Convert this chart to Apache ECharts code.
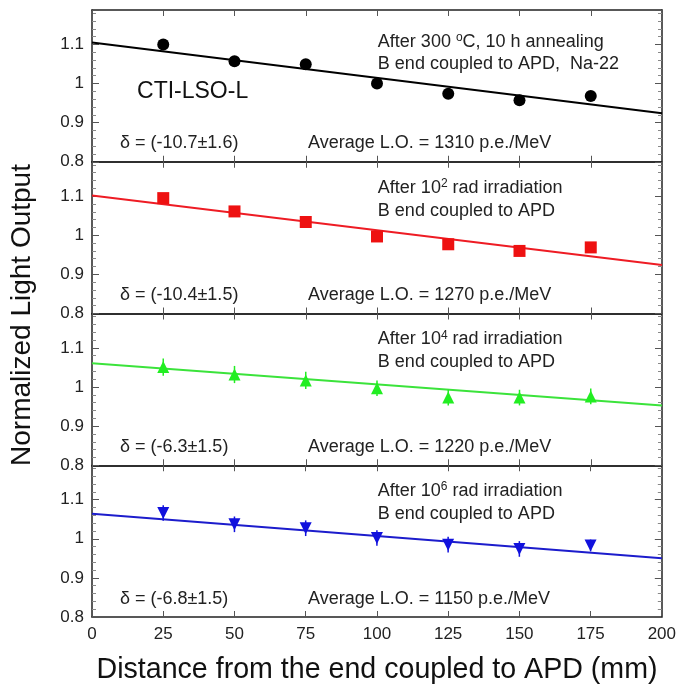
<!DOCTYPE html>
<html>
<head>
<meta charset="utf-8">
<script src="https://cdn.jsdelivr.net/npm/echarts@6/dist/echarts.min.js"></script>
<style>html,body{margin:0;padding:0;background:#fff}#c{width:679px;height:688px}</style>
</head>
<body>
<div id="c"></div>
<script>
// ---- data ----
const xPositions = [25, 50, 75, 100, 125, 150, 175];
const xTicks = [0, 25, 50, 75, 100, 125, 150, 175, 200];
const yTickLabels = ['0.8', '0.9', '1', '1.1'];

const annealedLO = [1.100, 1.057, 1.049, 1.000, 0.974, 0.957, 0.968];
const annealedErr = [0.010, 0.010, 0.010, 0.010, 0.010, 0.010, 0.010];
const rad2LO = [1.095, 1.061, 1.034, 0.997, 0.977, 0.960, 0.969];
const rad2Err = [0.012, 0.012, 0.012, 0.012, 0.012, 0.012, 0.012];
const rad4LO = [1.051, 1.032, 1.017, 0.997, 0.973, 0.973, 0.976];
const rad4Err = [0.022, 0.022, 0.022, 0.020, 0.020, 0.020, 0.020];
const rad6LO = [1.066, 1.037, 1.027, 1.002, 0.985, 0.974, 0.983];
const rad6Err = [0.020, 0.020, 0.020, 0.020, 0.020, 0.020, 0.015];

const fitAt0 = [1.105, 1.102, 1.061, 1.064];
const fitAt200 = [0.924, 0.924, 0.953, 0.950];

const panelTitle1 = ['After 300 ', 'After 10', 'After 10', 'After 10'];
const panelSup = ['o', '2', '4', '6'];
const panelTitle1b = ['C, 10 h annealing', ' rad irradiation', ' rad irradiation', ' rad irradiation'];
const panelTitle2 = ['B end coupled to APD,  Na-22', 'B end coupled to APD', 'B end coupled to APD', 'B end coupled to APD'];
const deltaText = ['\u03b4 = (-10.7\u00b11.6)', '\u03b4 = (-10.4\u00b11.5)', '\u03b4 = (-6.3\u00b11.5)', '\u03b4 = (-6.8\u00b11.5)'];
const avgLO = ['Average L.O. = 1310 p.e./MeV', 'Average L.O. = 1270 p.e./MeV', 'Average L.O. = 1220 p.e./MeV', 'Average L.O. = 1150 p.e./MeV'];
const crystalName = 'CTI-LSO-L';

// ---- layout / styles ----
const FONT = "'Liberation Sans', Arial, sans-serif";
const YMIN = 0.8, YMAX = 1.188;
const TOP = 10, BOTTOM = 617, LEFT = 92, RIGHT_PX = 662;
const H = (BOTTOM - TOP) / 4;
const line1At = [1.107, 1.122, 1.122, 1.122];
const line2At = [1.050, 1.063, 1.063, 1.064];
const deltaAt = 0.847;
const markerColors = ['#000000', '#ee1111', '#22ee22', '#1111dd'];
const lineColors = ['#000000', '#ee1c24', '#3be33b', '#1c1ccc'];
const symbols = ['circle', 'rect', 'triangle', 'triangle'];
const rotates = [0, 0, 0, 180];
const panels = [
  [annealedLO, annealedErr],
  [rad2LO, rad2Err],
  [rad4LO, rad4Err],
  [rad6LO, rad6Err]
];

const chart = echarts.init(document.getElementById('c'), null, {renderer: 'canvas'});

const grids = [], xAxes = [], yAxes = [], series = [];
const axisColor = '#222';
for (let i = 0; i < 4; i++) {
  grids.push({left: LEFT, right: 679 - RIGHT_PX, top: TOP + i * H, height: H});
  const xBase = {
    gridIndex: i, type: 'value', min: 0, max: 200, interval: 25,
    axisLine: {show: true, onZero: false, lineStyle: {color: axisColor, width: 1.5}},
    axisTick: {show: true, inside: true, length: 6, lineStyle: {color: '#555', width: 1}},
    splitLine: {show: false}
  };
  xAxes.push(Object.assign({}, xBase, {
    position: 'bottom',
    axisLabel: {show: i === 3, fontSize: 17, color: '#222', fontFamily: FONT, margin: 9,
      formatter: v => xTicks.indexOf(v) >= 0 ? String(v) : ''}
  }));
  xAxes.push(Object.assign({}, xBase, {position: 'top', axisLabel: {show: false}}));
  const yBase = {
    gridIndex: i, type: 'value', min: YMIN, max: YMAX, interval: 0.1,
    axisLine: {show: true, onZero: false, lineStyle: {color: axisColor, width: 1.5}},
    axisTick: {show: true, inside: true, length: 7, lineStyle: {color: '#555', width: 1}},
    minorTick: {show: true, splitNumber: 5, length: 4, lineStyle: {color: '#888', width: 1}},
    splitLine: {show: false}
  };
  yAxes.push(Object.assign({}, yBase, {
    position: 'left',
    axisLabel: {show: true, fontSize: 17, color: '#222', fontFamily: FONT, margin: 8, showMaxLabel: false,
      formatter: v => {
        const s = String(Math.round(v * 10) / 10);
        return yTickLabels.indexOf(s) >= 0 ? s : '';
      }}
  }));
  yAxes.push(Object.assign({}, yBase, {position: 'right', axisLabel: {show: false}}));

  const vals = panels[i][0], errs = panels[i][1];
  series.push({
    type: 'line', xAxisIndex: 2 * i, yAxisIndex: 2 * i, showSymbol: false, silent: true,
    lineStyle: {color: lineColors[i], width: 2}, z: 2,
    data: [[0, fitAt0[i]], [200, fitAt200[i]]]
  });
  series.push({
    type: 'custom', xAxisIndex: 2 * i, yAxisIndex: 2 * i, z: 3, silent: true,
    data: xPositions.map((x, j) => [x, vals[j] - errs[j], vals[j] + errs[j]]),
    renderItem: (params, api) => {
      const p1 = api.coord([api.value(0), api.value(1)]);
      const p2 = api.coord([api.value(0), api.value(2)]);
      return {type: 'line', shape: {x1: p1[0], y1: p1[1], x2: p2[0], y2: p2[1]},
        style: {stroke: markerColors[i], lineWidth: 1.5}};
    }
  });
  series.push({
    type: 'scatter', xAxisIndex: 2 * i, yAxisIndex: 2 * i, z: 4,
    symbol: symbols[i], symbolRotate: rotates[i], symbolSize: 12,
    itemStyle: {color: markerColors[i], opacity: 1},
    data: xPositions.map((x, j) => [x, vals[j]])
  });
}

chart.setOption({
  animation: false,
  backgroundColor: '#fff',
  grid: grids, xAxis: xAxes, yAxis: yAxes, series: series
});

// ---- annotations positioned through the axes ----
const graphics = [];
const toPx = (i, x, y) => chart.convertToPixel({xAxisIndex: 2 * i, yAxisIndex: 2 * i}, [x, y]);
const TXT = 18;
for (let i = 0; i < 4; i++) {
  const p1 = toPx(i, 100.3, line1At[i]);
  graphics.push({type: 'text', x: p1[0], y: p1[1], style: {
    text: '{n|' + panelTitle1[i] + '}{s|' + panelSup[i] + '}{n|' + panelTitle1b[i] + '}',
    rich: {n: {fontSize: TXT, fontFamily: FONT, fill: '#222', lineHeight: 20},
           s: {fontSize: 12, fontFamily: FONT, fill: '#222', verticalAlign: 'top', lineHeight: 20}},
    verticalAlign: 'middle', align: 'left'}});
  const p2 = toPx(i, 100.3, line2At[i]);
  graphics.push({type: 'text', x: p2[0], y: p2[1], style: {text: panelTitle2[i], fontSize: TXT, fontFamily: FONT, fill: '#222', verticalAlign: 'middle', align: 'left'}});
  const p3 = toPx(i, 9.8, deltaAt);
  graphics.push({type: 'text', x: p3[0], y: p3[1], style: {text: deltaText[i], fontSize: TXT, fontFamily: FONT, fill: '#222', verticalAlign: 'middle', align: 'left'}});
  const p4 = toPx(i, 75.8, deltaAt);
  graphics.push({type: 'text', x: p4[0], y: p4[1], style: {text: avgLO[i], fontSize: TXT, fontFamily: FONT, fill: '#222', verticalAlign: 'middle', align: 'left'}});
}
const pc = toPx(0, 15.8, 0.98);
graphics.push({type: 'text', x: pc[0], y: pc[1], style: {text: crystalName, fontSize: 23, fontFamily: FONT, fill: '#111', verticalAlign: 'middle', align: 'left'}});
graphics.push({type: 'text', x: 22, y: 315, rotation: Math.PI / 2, style: {
  text: 'Normalized Light Output', fontSize: 28, fontFamily: FONT, fill: '#111', align: 'center', verticalAlign: 'middle'}});
graphics.push({type: 'text', x: (LEFT + RIGHT_PX) / 2, y: 670, style: {
  text: 'Distance from the end coupled to APD (mm)', fontSize: 28.6, fontFamily: FONT, fill: '#111', align: 'center', verticalAlign: 'middle'}});
chart.setOption({graphic: graphics});
</script>
</body>
</html>
